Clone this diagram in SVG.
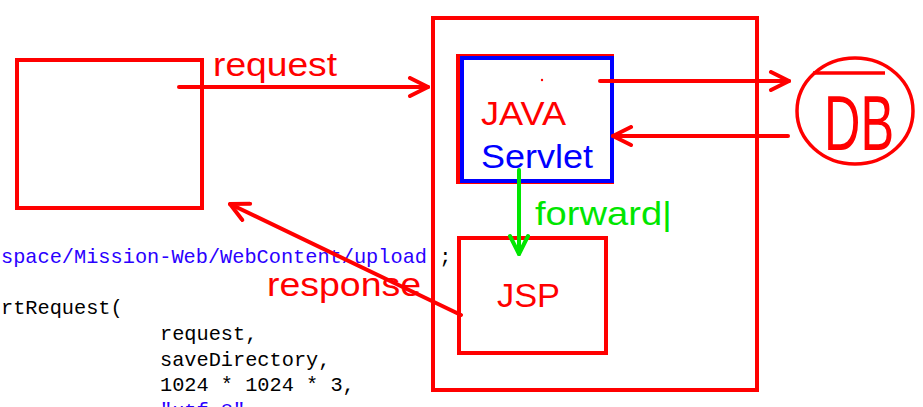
<svg xmlns="http://www.w3.org/2000/svg" width="923" height="407" viewBox="0 0 923 407">
<defs>
<style>
.code{font-family:"Liberation Mono","DejaVu Sans Mono",monospace;font-size:20.3px;fill:#000}
.str{fill:#2a00ff}
.lbl{font-family:"Liberation Sans",Arial,sans-serif;font-size:33px}
.red{fill:#ff0000}
.box{fill:none;stroke:#ff0000;stroke-width:4}
.edge{fill:none;stroke:#ff0000;stroke-width:4;stroke-linecap:round}
</style>
<marker id="ahR" viewBox="-21 -11 23 22" refX="0" refY="0" markerWidth="23" markerHeight="22" markerUnits="userSpaceOnUse" orient="auto">
<path d="M-18,-9 L0,0 L-18,9" fill="none" stroke="#ff0000" stroke-width="4" stroke-linecap="round" stroke-linejoin="round"/>
</marker>
<marker id="ahG" viewBox="-21 -11 23 22" refX="0" refY="0" markerWidth="23" markerHeight="22" markerUnits="userSpaceOnUse" orient="auto">
<path d="M-18,-9 L0,0 L-18,9" fill="none" stroke="#00e600" stroke-width="4" stroke-linecap="round" stroke-linejoin="round"/>
</marker>
</defs>
<rect width="923" height="407" fill="#ffffff"/>
<g id="code">
<text class="code" x="1" y="263"><tspan class="str">space/Mission-Web/WebContent/upload'</tspan>;</text>
<text class="code" x="1" y="314">rtRequest(</text>
<text class="code" x="160" y="340">request,</text>
<text class="code" x="160" y="366">saveDirectory,</text>
<text class="code" x="160" y="391">1024 * 1024 * 3,</text>
<text class="code" x="160" y="417"><tspan class="str">"utf-8"</tspan>,</text>
</g>
<g id="client">
<rect class="box" x="17" y="60" width="185" height="148"/>
</g>
<g id="server">
<rect class="box" x="433" y="18" width="324" height="372"/>
</g>
<g id="servlet">
<rect class="box" x="458" y="56" width="154" height="126"/>
<rect x="462" y="58" width="150" height="123" fill="none" stroke="#0000ff" stroke-width="4"/>
<circle cx="542" cy="80" r="1.2" fill="#ff0000"/>
<text class="lbl red" x="481" y="125" textLength="85" lengthAdjust="spacingAndGlyphs">JAVA</text>
<text class="lbl" x="481" y="168" fill="#0000ff" textLength="112" lengthAdjust="spacingAndGlyphs">Servlet</text>
</g>
<g id="jsp">
<rect class="box" x="459" y="238" width="147" height="115"/>
<text class="lbl red" x="497" y="307" textLength="63" lengthAdjust="spacingAndGlyphs">JSP</text>
</g>
<g id="db">
<ellipse cx="855" cy="111" rx="58" ry="53" fill="none" stroke="#ff0000" stroke-width="3.5"/>
<line x1="813" y1="73" x2="885" y2="73" stroke="#ff0000" stroke-width="3.5"/>
<text x="0" y="0" transform="translate(824,150) scale(1,1.3)" font-family="Liberation Sans,Arial,sans-serif" font-size="60" fill="#ff0000" textLength="70" lengthAdjust="spacingAndGlyphs">DB</text>
</g>
<g id="connectors">
<line class="edge" x1="179" y1="87" x2="428" y2="87" marker-end="url(#ahR)"/>
<line class="edge" x1="600" y1="81" x2="789" y2="81" marker-end="url(#ahR)"/>
<line class="edge" x1="788" y1="136" x2="613" y2="136" marker-end="url(#ahR)"/>
<line class="edge" x1="461" y1="315" x2="230" y2="204" marker-end="url(#ahR)"/>
<line x1="519" y1="170" x2="519" y2="254" stroke="#00e600" stroke-width="4" stroke-linecap="round" marker-end="url(#ahG)"/>
<text class="lbl red" x="213" y="76" textLength="124" lengthAdjust="spacingAndGlyphs">request</text>
<text class="lbl red" x="267" y="296" textLength="154" lengthAdjust="spacingAndGlyphs">response</text>
<text class="lbl" x="535" y="225" fill="#00e600" textLength="137" lengthAdjust="spacingAndGlyphs">forward|</text>
</g>
</svg>
